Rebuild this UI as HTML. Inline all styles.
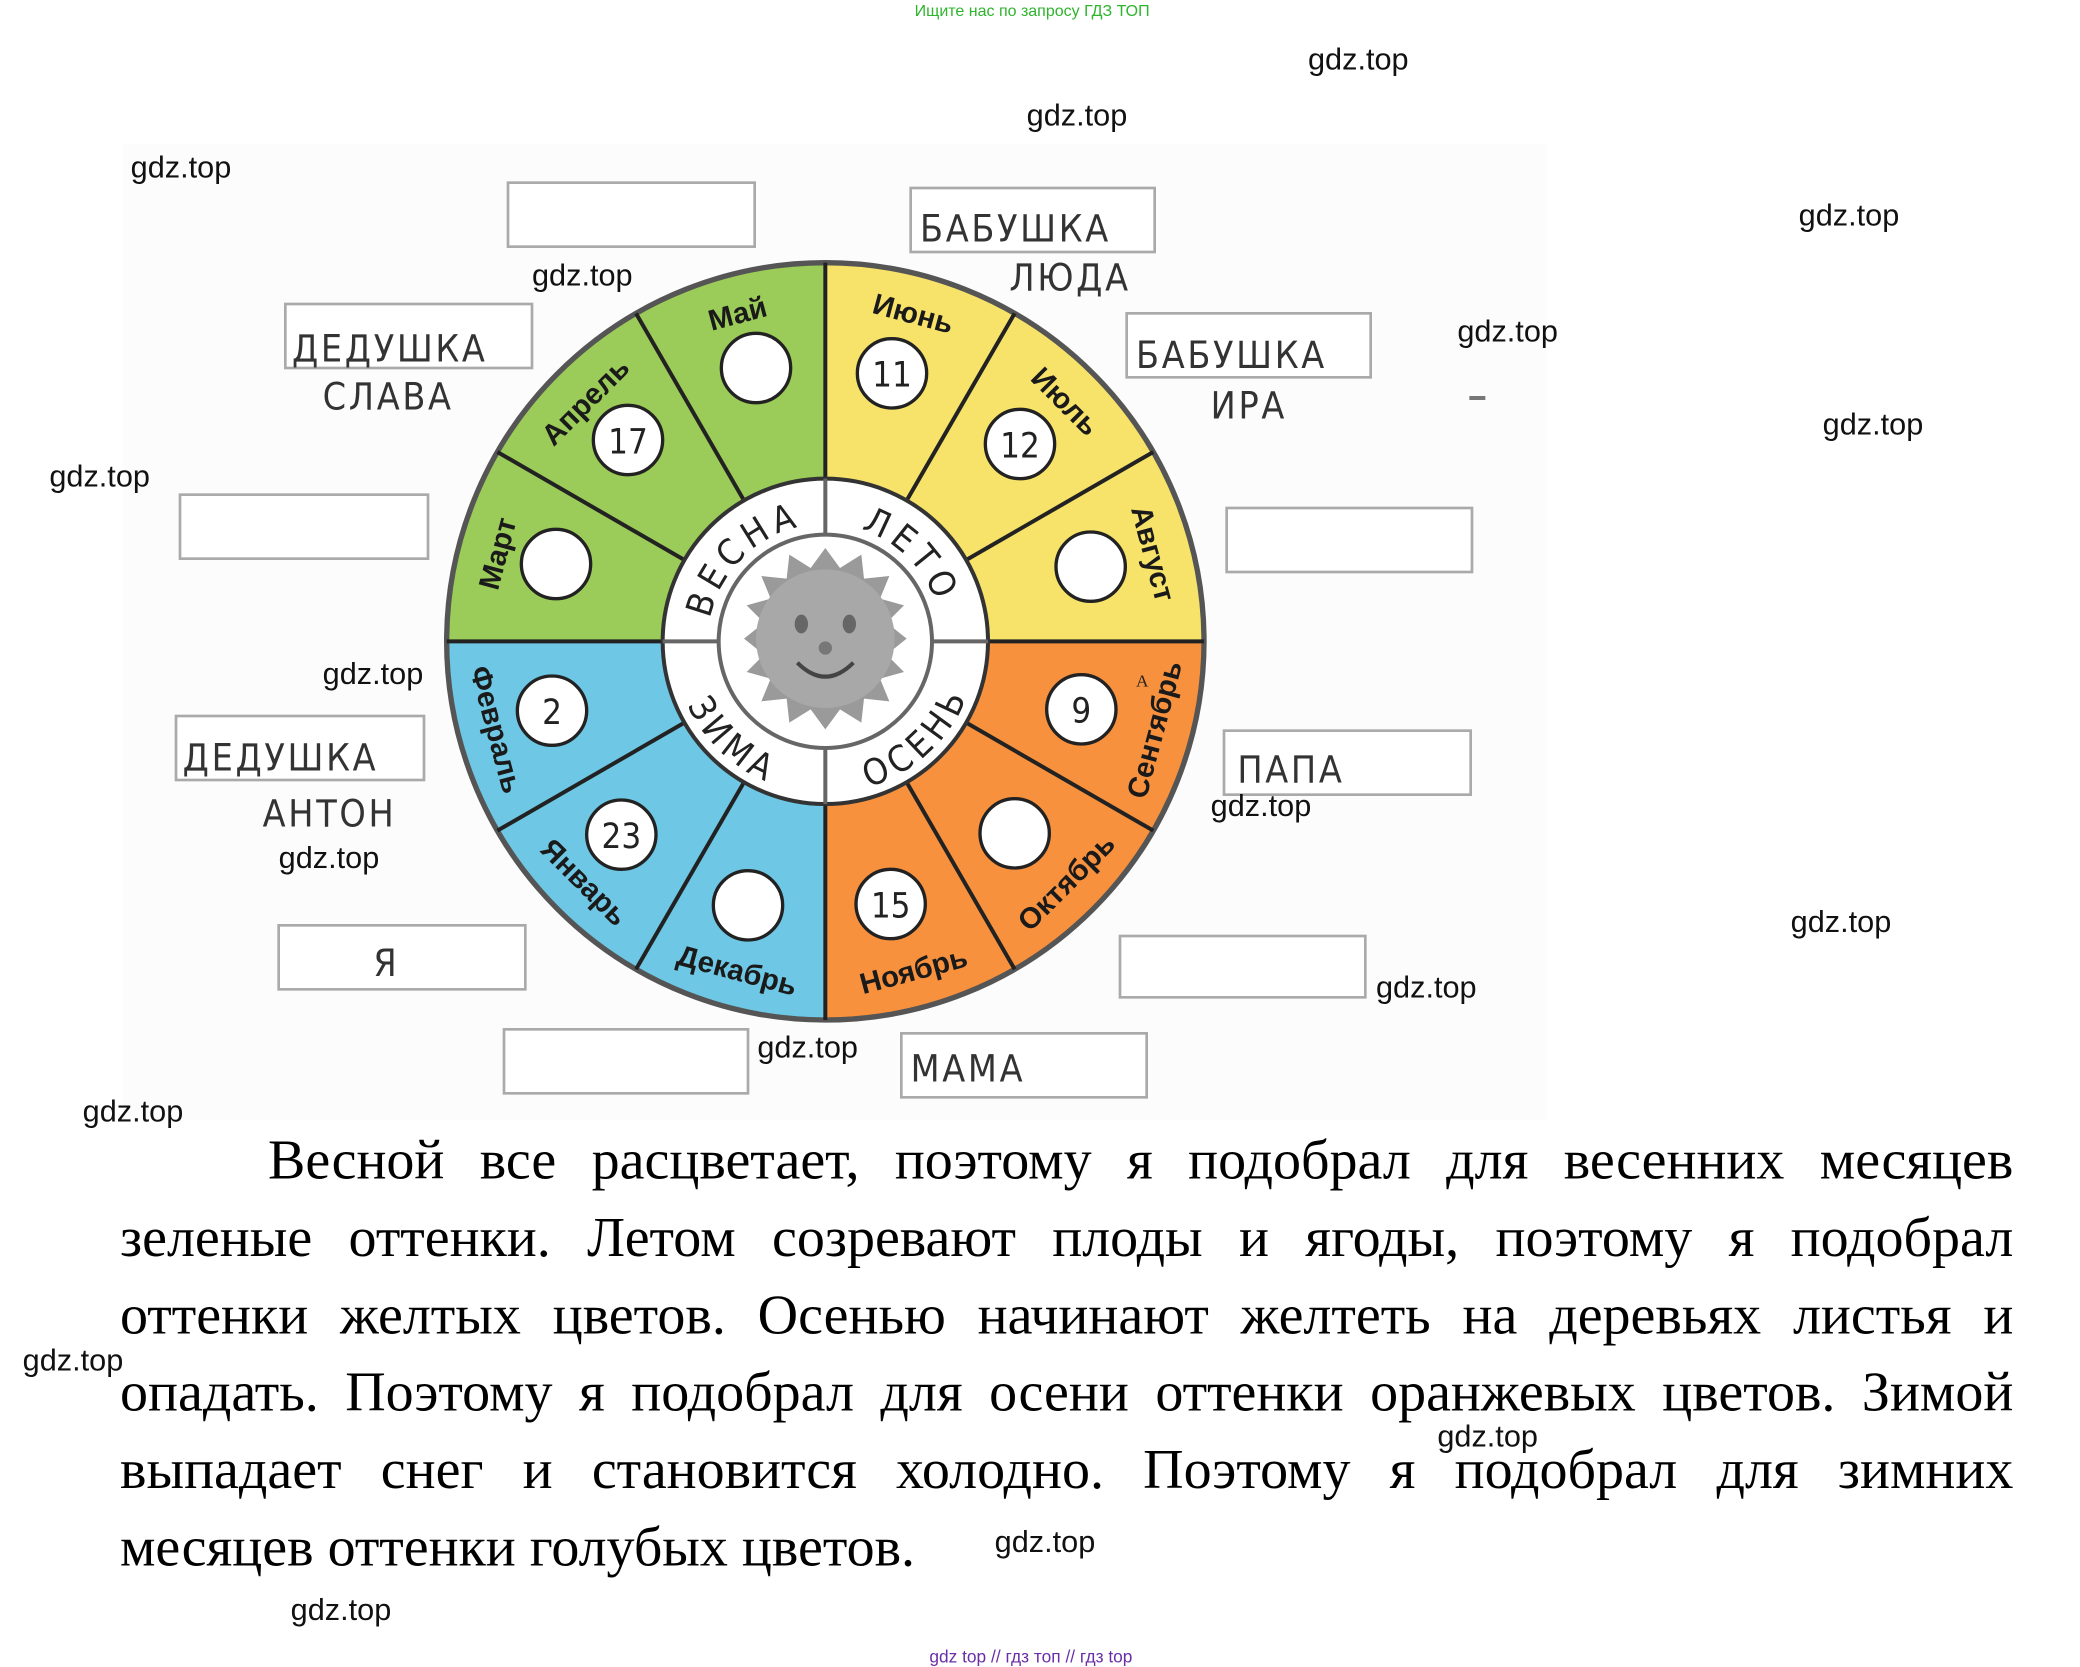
<!DOCTYPE html>
<html><head><meta charset="utf-8"><style>
html,body{margin:0;padding:0;background:#fff;width:2080px;height:1664px;overflow:hidden}
#s{position:absolute;left:0;top:0;width:1560px;height:1248px;transform:scale(1.333333);transform-origin:0 0}
.w{position:absolute;font-family:"Liberation Sans",sans-serif;font-size:23px;color:#111;line-height:1;white-space:nowrap}
.para{position:absolute;left:90px;width:1420px;top:844px;font-family:"Liberation Serif","DejaVu Serif",serif;font-size:42px;color:#000}
.para div{height:58px;line-height:54px;text-align:justify;text-align-last:justify;white-space:nowrap}
.para div.l{text-align-last:left}
</style></head><body><div id="s">
<svg width="1560" height="1248" viewBox="0 0 1560 1248" style="position:absolute;left:0;top:0" font-family="Liberation Sans, sans-serif">
<rect x="92" y="108" width="1068" height="732" fill="#fcfcfc"/>
<defs>
<path id="top" d="M 531 481 A 88 88 0 0 1 707 481"/>
<path id="bot" d="M 505 481 A 114 114 0 0 0 733 481"/>
</defs>
<g stroke="none">
<path d="M619 481 L619 197 A284 284 0 0 1 903 481 Z" fill="#f7e36a"/>
<path d="M619 481 L903 481 A284 284 0 0 1 619 765 Z" fill="#f7913d"/>
<path d="M619 481 L619 765 A284 284 0 0 1 335 481 Z" fill="#6ec7e4"/>
<path d="M619 481 L335 481 A284 284 0 0 1 619 197 Z" fill="#9bcb58"/>
</g>
<circle cx="619" cy="481" r="284" fill="none" stroke="#555" stroke-width="4"/>
<g stroke="#222" stroke-width="3">
<line x1="619" y1="359" x2="619" y2="197"/><line x1="619" y1="603" x2="619" y2="765"/>
<line x1="497" y1="481" x2="335" y2="481"/><line x1="741" y1="481" x2="903" y2="481"/>
<g transform="rotate(30 619 481)"><line x1="619" y1="359" x2="619" y2="197"/><line x1="619" y1="603" x2="619" y2="765"/><line x1="497" y1="481" x2="335" y2="481"/><line x1="741" y1="481" x2="903" y2="481"/></g>
<g transform="rotate(60 619 481)"><line x1="619" y1="359" x2="619" y2="197"/><line x1="619" y1="603" x2="619" y2="765"/><line x1="497" y1="481" x2="335" y2="481"/><line x1="741" y1="481" x2="903" y2="481"/></g>
</g>
<circle cx="619" cy="481" r="122" fill="#fff" stroke="#333" stroke-width="3"/>
<circle cx="619" cy="481" r="80" fill="#fff" stroke="#666" stroke-width="3"/>
<g stroke="#666" stroke-width="3">
<line x1="619" y1="359" x2="619" y2="401"/><line x1="619" y1="561" x2="619" y2="603"/>
<line x1="497" y1="481" x2="539" y2="481"/><line x1="699" y1="481" x2="741" y2="481"/>
</g>
<polygon fill="#9a9a9a" points="619,411 630,426 646,416 648,434 667,432 660,449 678,454 665,467 680,479 665,491 678,504 660,509 667,526 648,524 646,542 630,532 619,547 608,532 592,542 590,524 571,526 578,509 560,504 573,491 558,479 573,467 560,454 578,449 571,432 590,434 592,416 608,426"/>
<circle cx="619" cy="479" r="52" fill="#a8a8a8"/>
<ellipse cx="601" cy="468" rx="5" ry="7" fill="#666"/><ellipse cx="637" cy="468" rx="5" ry="7" fill="#666"/>
<circle cx="619" cy="486" r="5" fill="#777"/>
<path d="M598 497 Q619 518 640 497" fill="none" stroke="#444" stroke-width="3"/>
<g font-family="DejaVu Sans Condensed, DejaVu Sans, sans-serif" font-size="27" fill="#222" letter-spacing="4">
<text><textPath href="#top" startOffset="25%" text-anchor="middle">ВЕСНА</textPath></text>
<text><textPath href="#top" startOffset="75%" text-anchor="middle">ЛЕТО</textPath></text>
<text><textPath href="#bot" startOffset="26%" text-anchor="middle">ЗИМА</textPath></text>
<text><textPath href="#bot" startOffset="74%" text-anchor="middle">ОСЕНЬ</textPath></text>
</g>
<g font-size="22" font-weight="bold" fill="#1a1a1a" text-anchor="middle">
<text x="619" y="234" transform="rotate(-15 619 481)">Май</text>
<text x="619" y="234" transform="rotate(-45 619 481)">Апрель</text>
<text x="619" y="234" transform="rotate(-75 619 481)">Март</text>
<text x="619" y="234" transform="rotate(15 619 481)">Июнь</text>
<text x="619" y="234" transform="rotate(45 619 481)">Июль</text>
<text x="619" y="234" transform="rotate(75 619 481)">Август</text>
<text x="619" y="744" transform="rotate(-75 619 481)">Сентябрь</text>
<text x="619" y="744" transform="rotate(-45 619 481)">Октябрь</text>
<text x="619" y="744" transform="rotate(-15 619 481)">Ноябрь</text>
<text x="619" y="744" transform="rotate(15 619 481)">Декабрь</text>
<text x="619" y="744" transform="rotate(45 619 481)">Январь</text>
<text x="619" y="744" transform="rotate(75 619 481)">Февраль</text>
</g>
<g fill="#fff" stroke="#222" stroke-width="2.5">
<circle cx="567" cy="276" r="26"/><circle cx="471" cy="330" r="26"/><circle cx="417" cy="423" r="26"/>
<circle cx="669" cy="280" r="26"/><circle cx="765" cy="333" r="26"/><circle cx="818" cy="425" r="26"/>
<circle cx="811" cy="532" r="26"/><circle cx="761" cy="625" r="26"/><circle cx="668" cy="678" r="26"/>
<circle cx="561" cy="679" r="26"/><circle cx="466" cy="626" r="26"/><circle cx="414" cy="533" r="26"/>
</g>
<g font-family="DejaVu Sans Condensed, DejaVu Sans, sans-serif" font-size="26" fill="#222" text-anchor="middle">
<text x="471" y="340">17</text><text x="669" y="290">11</text><text x="765" y="343">12</text>
<text x="811" y="542">9</text><text x="668" y="688">15</text><text x="466" y="636">23</text><text x="414" y="543">2</text>
</g>
<g fill="#fff" stroke="#aaa" stroke-width="2">
<rect x="381" y="137" width="185" height="48"/><rect x="683" y="141" width="183" height="48"/>
<rect x="214" y="228" width="185" height="48"/><rect x="845" y="235" width="183" height="48"/>
<rect x="135" y="371" width="186" height="48"/><rect x="920" y="381" width="184" height="48"/>
<rect x="132" y="537" width="186" height="48"/><rect x="918" y="548" width="185" height="48"/>
<rect x="209" y="694" width="185" height="48"/><rect x="840" y="702" width="184" height="46"/>
<rect x="378" y="772" width="183" height="48"/><rect x="676" y="775" width="184" height="48"/>
</g>
<g font-family="DejaVu Sans Condensed, DejaVu Sans, sans-serif" font-size="28" fill="#333" letter-spacing="2">
<text x="690" y="181">БАБУШКА</text><text x="757" y="218">ЛЮДА</text>
<text x="219" y="271">ДЕДУШКА</text><text x="242" y="307">СЛАВА</text>
<text x="852" y="276">БАБУШКА</text><text x="908" y="314">ИРА</text>
<text x="137" y="578">ДЕДУШКА</text><text x="197" y="620">АНТОН</text>
<text x="928" y="587">ПАПА</text><text x="280" y="732">Я</text>
<text x="683" y="811">МАМА</text>
</g>
<text x="852" y="515" font-family="Liberation Serif, serif" font-size="13" fill="#222">A</text>
<rect x="1102" y="297" width="12" height="3" fill="#777"/>
</svg>
<div class="w" style="left:686px;top:2px;font-size:12px;color:#2db52d">Ищите нас по запросу ГДЗ ТОП</div>
<div class="w" style="left:981px;top:33px">gdz.top</div>
<div class="w" style="left:770px;top:75px">gdz.top</div>
<div class="w" style="left:98px;top:114px">gdz.top</div>
<div class="w" style="left:1349px;top:150px">gdz.top</div>
<div class="w" style="left:399px;top:195px">gdz.top</div>
<div class="w" style="left:1093px;top:237px">gdz.top</div>
<div class="w" style="left:37px;top:346px">gdz.top</div>
<div class="w" style="left:1367px;top:307px">gdz.top</div>
<div class="w" style="left:242px;top:494px">gdz.top</div>
<div class="w" style="left:908px;top:593px">gdz.top</div>
<div class="w" style="left:209px;top:632px">gdz.top</div>
<div class="w" style="left:1343px;top:680px">gdz.top</div>
<div class="w" style="left:1032px;top:729px">gdz.top</div>
<div class="w" style="left:568px;top:774px">gdz.top</div>
<div class="w" style="left:62px;top:822px">gdz.top</div>
<div class="para">
<div style="padding-left:111px">Весной все расцветает, поэтому я подобрал для весенних месяцев</div>
<div>зеленые оттенки. Летом созревают плоды и ягоды, поэтому я подобрал</div>
<div>оттенки желтых цветов. Осенью начинают желтеть на деревьях листья и</div>
<div>опадать. Поэтому я подобрал для осени оттенки оранжевых цветов. Зимой</div>
<div>выпадает снег и становится холодно. Поэтому я подобрал для зимних</div>
<div class="l">месяцев оттенки голубых цветов.</div>
</div>
<div class="w" style="left:17px;top:1009px">gdz.top</div>
<div class="w" style="left:1078px;top:1066px">gdz.top</div>
<div class="w" style="left:746px;top:1145px">gdz.top</div>
<div class="w" style="left:218px;top:1196px">gdz.top</div>
<div class="w" style="left:697px;top:1236px;font-size:13px;color:#6a2fa8">gdz top // гдз топ // гдз top</div>
</div></body></html>
